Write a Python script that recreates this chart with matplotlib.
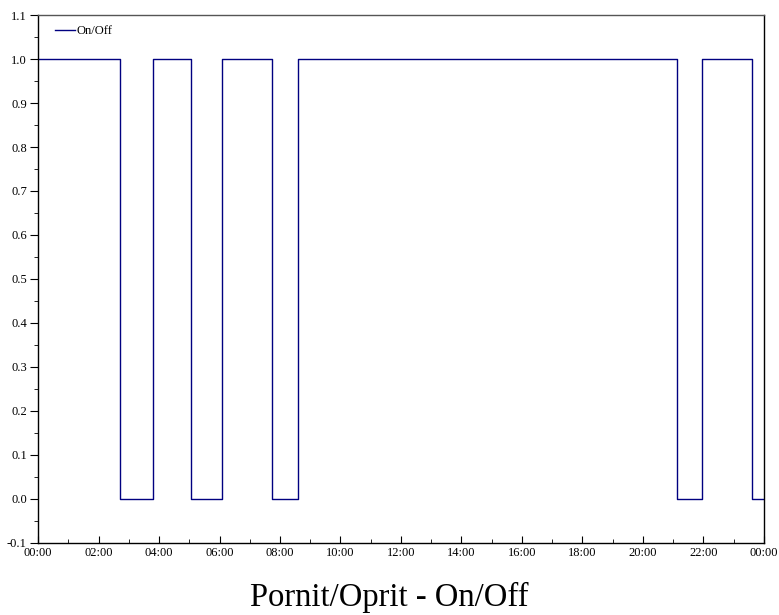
"""On/Off schedule over one day"""

import numpy as np
import matplotlib.pyplot as plt
from matplotlib.ticker import MultipleLocator

# switching times (hours) and state after each switch
switch_hours = [0.0, 2.71, 3.80, 5.06, 6.08, 7.74, 8.60, 21.12, 21.95, 23.60, 24.0]
state = [1, 0, 1, 0, 1, 0, 1, 0, 1, 0, 0]
tick_hours = list(range(0, 25, 2))
tick_labels = ['%02d:00' % (h % 24) for h in tick_hours]

plt.rcParams['font.family'] = 'Liberation Serif'

fig = plt.figure(figsize=(7.79, 6.15), dpi=100)
ax = fig.add_axes([0.0488, 0.1171, 0.9319, 0.8585])

ax.step(switch_hours, state, where='post', color='#000080', lw=1.0, label='On/Off')

ax.set_xlim(0, 24)
ax.set_ylim(-0.1, 1.1)
ax.set_xticks(tick_hours)
ax.set_xticklabels(tick_labels)
ax.xaxis.set_minor_locator(MultipleLocator(1))
ax.set_yticks(np.arange(-0.1, 1.101, 0.1))
ax.set_yticklabels(['%.1f' % v for v in np.arange(-0.1, 1.101, 0.1)])
ax.yaxis.set_minor_locator(MultipleLocator(0.05))

ax.tick_params(axis='x', which='major', direction='in', length=5, labelsize=9, pad=3)
ax.tick_params(axis='x', which='minor', direction='in', length=3)
ax.tick_params(axis='y', which='major', direction='out', length=6, labelsize=9, pad=2)
ax.tick_params(axis='y', which='minor', direction='out', length=3)

ax.spines['top'].set_color('#555555')
for s in ax.spines.values():
    s.set_linewidth(1.0)

ax.legend(loc='upper left', frameon=False, fontsize=9, handlelength=1.6,
          handletextpad=0.1, borderaxespad=0.4, bbox_to_anchor=(0.01, 1.0))

fig.text(0.5, 0.029, 'Pornit/Oprit - On/Off', ha='center', va='center', fontsize=23.5)

fig.savefig('out.png')
